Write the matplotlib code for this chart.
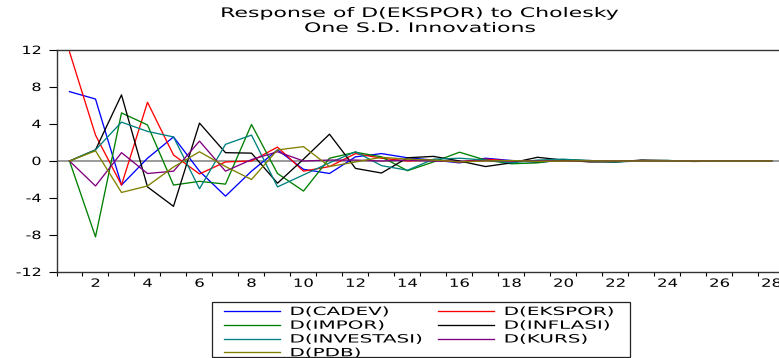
import numpy as np
import matplotlib
matplotlib.use("Agg")
import matplotlib.pyplot as plt
from matplotlib.patheffects import AbstractPathEffect
from matplotlib.transforms import Affine2D
from matplotlib.patches import Rectangle
from matplotlib.font_manager import FontProperties

plt.rcParams["font.family"] = ["DejaVu Sans"]
plt.rcParams["axes.unicode_minus"] = False

# Impulse responses of D(EKSPOR) over 28 periods
periods = list(range(1, 29))
cadev = [7.5, 6.7, -2.6, 0.3, 2.6, -1.1, -3.8, -1.1, 1.2, -0.9, -1.35, 0.45, 0.8, 0.35,
         0.1, -0.2, 0.3, 0.05, -0.15, 0.1, 0.05, -0.05, 0.05, 0.0, 0.02, -0.02, 0.0, 0.0]
ekspor = [11.8, 2.8, -2.6, 6.35, 0.65, -1.4, -0.1, 0.0, 1.5, -1.1, -0.6, 0.8, 0.3, 0.0,
          0.1, -0.1, 0.2, 0.0, -0.05, 0.05, 0.0, -0.02, 0.02, 0.0, 0.0, 0.0, 0.0, 0.0]
impor = [0.0, -8.2, 5.2, 3.9, -2.6, -2.2, -2.5, 3.95, -1.35, -3.25, 0.3, 0.95, 0.45, -1.05,
         -0.1, 0.95, 0.1, -0.3, -0.2, 0.15, 0.05, -0.1, 0.05, 0.05, -0.02, 0.0, 0.0, 0.0]
inflasi = [0.0, 1.2, 7.15, -2.8, -4.9, 4.1, 0.9, 0.85, -2.4, 0.2, 2.9, -0.8, -1.3, 0.35,
           0.5, 0.0, -0.6, -0.2, 0.4, 0.1, -0.1, -0.1, 0.1, 0.05, -0.05, 0.0, 0.02, 0.0]
investasi = [0.0, 1.2, 4.2, 3.2, 2.6, -3.0, 1.8, 2.8, -2.8, -1.5, -0.2, 1.0, -0.5, -1.0,
             0.2, 0.3, 0.1, -0.2, 0.1, 0.2, 0.0, -0.1, 0.0, 0.05, 0.0, 0.0, 0.0, 0.0]
kurs = [0.0, -2.7, 0.9, -1.35, -1.1, 2.15, -1.1, 0.15, 1.0, 0.0, 0.1, 0.1, 0.0, 0.1,
        0.0, -0.05, 0.05, 0.0, 0.0, 0.0, 0.0, 0.0, 0.0, 0.0, 0.0, 0.0, 0.0, 0.0]
pdb = [0.0, 1.1, -3.4, -2.7, -0.65, 1.0, -0.6, -2.0, 1.2, 1.55, -0.6, -0.1, 0.4, 0.2,
       0.1, -0.1, 0.0, 0.05, -0.05, 0.0, 0.02, 0.0, 0.0, 0.0, 0.0, 0.0, 0.0, 0.0]

series_names = ["D(CADEV)", "D(EKSPOR)", "D(IMPOR)", "D(INFLASI)",
                "D(INVESTASI)", "D(KURS)", "D(PDB)"]
series_values = [cadev, ekspor, impor, inflasi, investasi, kurs, pdb]
series_colors = ["#0000ff", "#ff0000", "#008000", "#000000",
                 "#008080", "#800080", "#808000"]

y_ticks = [-12, -8, -4, 0, 4, 8, 12]
x_labelled = list(range(2, 29, 2))
title_text = "Response of D(EKSPOR) to Cholesky\nOne S.D. Innovations"


class Widen(AbstractPathEffect):
    """Draw text glyphs horizontally widened about a chosen anchor."""

    def __init__(self, sx, anchor="left"):
        super().__init__()
        self.sx = sx
        self.anchor = anchor

    def draw_path(self, renderer, gc, tpath, affine, rgbFace=None):
        ext = tpath.get_extents()
        if self.anchor == "center":
            x0 = 0.5 * (ext.x0 + ext.x1)
        elif self.anchor == "right":
            x0 = ext.x1
        else:
            x0 = 0.0
        t = Affine2D().translate(-x0, 0).scale(self.sx, 1.0).translate(x0, 0)
        renderer.draw_path(gc, tpath, t + affine, rgbFace)


W, H = 779, 358
fig = plt.figure(figsize=(W / 100, H / 100), dpi=100)
fig.patch.set_facecolor("white")

ax_left, ax_right, ax_top, ax_bottom = 56.5, 784.5, 50, 272
ax = fig.add_axes([ax_left / W, 1 - ax_bottom / H,
                   (ax_right - ax_left) / W, (ax_bottom - ax_top) / H])

ax.axhline(0, color="#9a9a9a", lw=1.4, zorder=1)
lines = []
for name, vals, col in zip(series_names, series_values, series_colors):
    ln, = ax.plot(periods, vals, color=col, lw=0.95, label=name, zorder=2)
    lines.append(ln)

ax.set_xlim(0.5, 28.5)
ax.set_ylim(-12, 12)
ax.set_yticks(y_ticks)
ax.set_xticks(x_labelled)
ax.set_xticks(np.arange(0.5, 28.6, 1.0), minor=True)
ax.tick_params(axis="x", which="major", length=0, pad=4.9, labelsize=8.2)
ax.tick_params(axis="x", which="minor", length=3, width=0.8, direction="out")
ax.tick_params(axis="y", which="major", length=6, width=0.8, direction="out",
               pad=5, labelsize=8.2)
for sp in ax.spines.values():
    sp.set_color("#333333")
    sp.set_linewidth(1.0)

for lab in ax.get_xticklabels():
    lab.set_path_effects([Widen(1.45, "center")])
for lab in ax.get_yticklabels():
    lab.set_path_effects([Widen(1.4, "right")])

# Title, two centred lines above the plot (baseline refers to the last line)
title = fig.text((ax_left + ax_right) / 2 / W, 1 - 32 / H, title_text,
                 ha="center", va="baseline", fontsize=9.5, linespacing=1.2)
title.set_path_effects([Widen(1.67, "center")])

# Legend: two columns, filled row by row
leg_fs = 8.2
order = [0, 2, 4, 6, 1, 3, 5]
renderer = fig.canvas.get_renderer()
fp = FontProperties(family="DejaVu Sans", size=leg_fs)
fs_px = leg_fs * 100 / 72
col1_w = max(renderer.get_text_width_height_descent(series_names[i], fp, ismath=False)[0]
             for i in order[:4])
hl_px, htp_px = 56, 10
col1_x, col2_x = 223.5, 437.7
colspace = (col2_x - (col1_x + hl_px + htp_px + col1_w)) / fs_px
leg = ax.legend([lines[i] for i in order], [series_names[i] for i in order],
                ncol=2, loc="upper left",
                bbox_to_anchor=(col1_x / W, 1 - 307 / H), bbox_transform=fig.transFigure,
                frameon=False, fontsize=leg_fs, handlelength=hl_px / fs_px,
                handletextpad=htp_px / fs_px, columnspacing=colspace,
                borderpad=0, borderaxespad=0, labelspacing=0.33)
for t in leg.get_texts():
    t.set_path_effects([Widen(1.75, "left")])
fig.add_artist(Rectangle((212 / W, 1 - 357 / H), (630 - 212) / W, (357 - 302) / H,
                         transform=fig.transFigure, fill=False, ec="#222222", lw=0.9))

fig.savefig("out.png", dpi=100, facecolor="white")
